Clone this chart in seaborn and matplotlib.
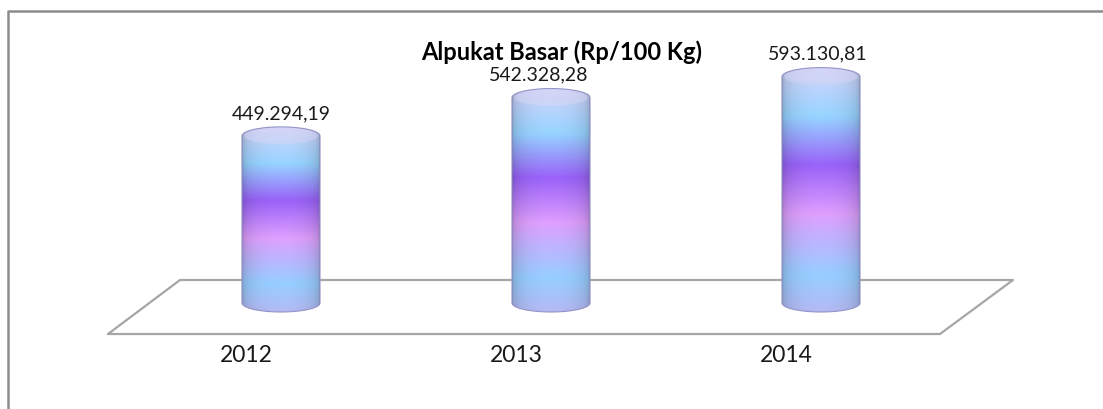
import numpy as np
import pandas as pd
import matplotlib
matplotlib.use("Agg")
import matplotlib.pyplot as plt
from matplotlib.path import Path
from matplotlib.patches import PathPatch, Ellipse
from matplotlib.colors import LinearSegmentedColormap
import seaborn as sns

# Data
years = ["2012", "2013", "2014"]
values = [449294.19, 542328.28, 593130.81]
value_labels = ["449.294,19", "542.328,28", "593.130,81"]
title = "Alpukat Basar (Rp/100 Kg)"

sns.set_theme(style="white")
plt.rcParams['font.family'] = ['Lato', 'DejaVu Sans']

W, H = 1103, 409
fig = plt.figure(figsize=(W / 100, H / 100), dpi=100)
ax = fig.add_axes([0, 0, 1, 1])

df = pd.DataFrame({"year": years, "value": values})
bw = 78 / 270
sns.barplot(data=df, x="year", y="value", width=bw, color="white", ax=ax, zorder=1)

# pixel mapping: bar i centred at 281 + 270 i ; value 0 at y=312, 0.412 px per 1000
ax.set_xlim(-281 / 270, (W - 281) / 270)
ax.set_ylim(-(H - 312) / 0.000412, 312 / 0.000412)
ax.axis("off")

def fx(px):
    return px / W

def fy(py):
    return 1 - py / H

# floor
floor = [(108, 334), (940, 334), (1013, 280), (180, 280), (108, 334)]
ax.plot([fx(p[0]) for p in floor], [fy(p[1]) for p in floor],
        transform=ax.transAxes, color="#a6a6a6", lw=1.6, zorder=0)

# border (top and left only visible)
ax.plot([fx(8), fx(8), fx(W + 5)], [fy(H + 5), fy(11), fy(11)],
        transform=ax.transAxes, color="#8c8c8c", lw=1.8, zorder=0, clip_on=False)

# cylinder colours (bottom -> top)
stops = [(0.00, (0.68, 0.70, 0.92)),
         (0.15, (0.57, 0.78, 0.97)),
         (0.40, (0.84, 0.60, 0.96)),
         (0.60, (0.58, 0.37, 0.94)),
         (0.80, (0.57, 0.80, 0.97)),
         (1.00, (0.80, 0.80, 0.94))]
vcmap = LinearSegmentedColormap.from_list("cyl", stops)
ry = 9 / 0.000412

nyy, nxx = 300, 80
t = np.linspace(0, 1, nyy)
s = np.linspace(-1, 1, nxx)[None, :]
shade = 0.74 + 0.30 * np.sqrt(np.clip(1 - s ** 2, 0, 1)) ** 0.6
rgb = np.clip(vcmap(t)[:, :3][:, None, :] * shade[..., None], 0, 1)

for p in ax.patches:
    x0, w, h = p.get_x(), p.get_width(), p.get_height()
    p.set_visible(False)
    x1 = x0 + w
    xc = x0 + w / 2
    th = np.linspace(np.pi, 2 * np.pi, 40)
    bot = [(xc + w / 2 * np.cos(a), ry + ry * np.sin(a)) for a in th]
    th2 = np.linspace(0, np.pi, 40)
    top = [(xc + w / 2 * np.cos(a), h - ry + ry * np.sin(a)) for a in th2]
    verts = bot + top + [bot[0]]
    codes = [Path.MOVETO] + [Path.LINETO] * (len(verts) - 2) + [Path.CLOSEPOLY]
    clip = PathPatch(Path(verts, codes), facecolor="none",
                     edgecolor=(0.58, 0.58, 0.78), lw=0.8, zorder=3)
    ax.add_patch(clip)
    im = ax.imshow(rgb, extent=[x0, x1, 0, h], origin="lower", aspect="auto",
                   interpolation="bilinear", zorder=2)
    im.set_clip_path(clip)
    cap = Ellipse((xc, h - ry), w * 0.94, ry * 2 * 0.9, facecolor=(0.84, 0.84, 0.96),
                  edgecolor="none", alpha=0.5, zorder=3)
    ax.add_patch(cap)

ax.set_xlim(-281 / 270, (W - 281) / 270)
ax.set_ylim(-(H - 312) / 0.000412, 312 / 0.000412)

# value labels
offs = [0, -12 / 270, -3 / 270]
for i, (v, lab) in enumerate(zip(values, value_labels)):
    ax.text(i + offs[i], v + 5 / 0.000412, lab, ha="center", va="bottom",
            fontsize=14, color="#1a1a1a", zorder=5)

# year labels under front edge of floor
for i, yr in enumerate(years):
    ax.text(i - 35 / 270, -43 / 0.000412, yr, ha="center", va="center",
            fontsize=16.5, color="#1a1a1a")

ax.text(fx(562), fy(52), title, transform=ax.transAxes, ha="center", va="center",
        fontsize=17, fontweight="bold", color="black")

fig.savefig("out.png", dpi=100)
